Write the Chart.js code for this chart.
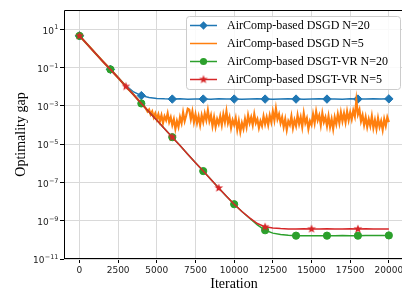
<!DOCTYPE html>
<html>
<head>
<meta charset="utf-8">
<script src="https://cdn.jsdelivr.net/npm/chart.js@4.4.1/dist/chart.umd.min.js"></script>
<style>
  html, body { margin: 0; padding: 0; background: #fff; }
  #wrap { width: 402px; height: 291px; }
</style>
</head>
<body>
<div id="wrap"><canvas id="gap-chart" width="402" height="291"></canvas></div>
<script>
// values are log10 of the optimality gap

// x tick labels and y tick exponents
const xTicks = [0, 2500, 5000, 7500, 10000, 12500, 15000, 17500, 20000];
const yTickExps = [-11, -9, -7, -5, -3, -1, 1];

// main curves are sampled every 500 iterations (0..20000)
const dsgdN20 = [0.65, 0.21, -0.23, -0.67, -1.1, -1.53, -1.95, -2.28, -2.47, -2.57,
  -2.62, -2.64, -2.65, -2.64, -2.66, -2.65, -2.65, -2.66, -2.64, -2.65,
  -2.65, -2.66, -2.65, -2.64, -2.65, -2.66, -2.65, -2.64, -2.65, -2.66,
  -2.65, -2.64, -2.65, -2.65, -2.66, -2.64, -2.65, -2.65, -2.64, -2.65, -2.64];

const dsgtN20 = [0.65, 0.21, -0.23, -0.67, -1.1, -1.54, -1.99, -2.43, -2.88, -3.32,
  -3.76, -4.2, -4.64, -5.08, -5.53, -5.97, -6.41, -6.85, -7.29, -7.72,
  -8.14, -8.52, -8.87, -9.22, -9.5, -9.65, -9.72, -9.76, -9.78, -9.78,
  -9.79, -9.78, -9.78, -9.78, -9.77, -9.78, -9.78, -9.77, -9.77, -9.77, -9.77];

const dsgtN5 = [0.65, 0.21, -0.23, -0.67, -1.1, -1.54, -1.99, -2.43, -2.88, -3.32,
  -3.76, -4.2, -4.64, -5.08, -5.53, -5.97, -6.41, -6.85, -7.29, -7.72,
  -8.14, -8.52, -8.85, -9.15, -9.32, -9.38, -9.41, -9.43, -9.44, -9.42,
  -9.43, -9.44, -9.42, -9.43, -9.44, -9.42, -9.43, -9.42, -9.44, -9.43, -9.43];

// DSGD N=5: every 500 up to 4000, then every 100 (noisy)
const dsgdN5Head = [0.65, 0.21, -0.23, -0.67, -1.1, -1.54, -1.99, -2.43, -2.88];
const dsgdN5Tail = [
  -2.95, -3.05, -3.15, -3.3, -3.2, -3.45, -3.3, -3.6, -3.4, -3.7,
  -3.45, -3.8, -3.5, -3.9, -3.55, -3.75, -3.4, -3.85, -3.6, -4.0,
  -3.7, -4.2, -3.8, -4.1, -3.6, -3.9, -3.35, -3.8, -3.5, -3.15,
  -3.2, -3.7, -3.3, -3.85, -3.45, -3.9, -3.55, -4.0, -3.5, -3.85,
  -3.4, -3.75, -3.25, -3.8, -3.5, -4.05, -3.6, -4.1, -3.7, -3.95,
  -3.55, -4.0, -3.45, -3.85, -3.3, -3.9, -3.6, -4.15, -3.75, -4.0,
  -3.65, -4.25, -3.8, -4.35, -3.9, -4.2, -3.7, -4.1, -3.5, -3.9,
  -3.6, -4.0, -3.45, -3.9, -3.7, -4.15, -3.8, -4.05, -3.55, -3.95,
  -3.6, -4.0, -3.5, -3.85, -3.3, -3.75, -3.15, -3.7, -3.45, -3.9,
  -3.6, -4.1, -3.7, -4.25, -3.8, -4.0, -3.55, -4.15, -3.75, -4.05,
  -3.5, -3.95, -3.6, -4.1, -3.4, -3.9, -3.65, -4.2, -3.8, -4.0,
  -3.45, -3.9, -3.3, -3.75, -3.5, -4.0, -3.4, -3.85, -3.6, -4.05,
  -3.55, -4.1, -3.7, -4.2, -3.6, -3.95, -3.45, -3.9, -3.35, -3.8,
  -3.4, -3.85, -3.3, -3.75, -3.35, -3.7, -3.25, -3.55, -2.72, -3.45,
  -3.2, -3.8, -3.5, -4.0, -3.6, -4.1, -3.7, -4.05, -3.55, -4.15,
  -3.75, -4.2, -3.65, -4.1, -3.8, -4.25, -3.7, -4.05, -3.6, -3.85
];

const labels = ['AirComp-based DSGD N=20', 'AirComp-based DSGD N=5',
  'AirComp-based DSGT-VR N=20', 'AirComp-based DSGT-VR N=5'];
const colors = ['#1f77b4', '#ff7f0e', '#2ca02c', '#d62728'];

// iteration grids
const mainIters = [];
for (let i = 0; i <= 20000; i += 500) mainIters.push(i);
const orangeIters = [];
for (let i = 0; i <= 4000; i += 500) orangeIters.push(i);
for (let i = 4100; i <= 20000; i += 100) orangeIters.push(i);

const toPoints = (xs, exps) => xs.map((x, i) => ({ x: x, y: Math.pow(10, exps[i]) }));

// filled star like matplotlib '*'
function makeStar(color, r) {
  const c = document.createElement('canvas');
  const s = Math.ceil(r * 2 + 2);
  c.width = s; c.height = s;
  const g = c.getContext('2d');
  g.beginPath();
  for (let k = 0; k < 10; k++) {
    const rad = k % 2 === 0 ? r : r * 0.42;
    const a = -Math.PI / 2 + k * Math.PI / 5;
    g.lineTo(s / 2 + rad * Math.cos(a), s / 2 + rad * Math.sin(a));
  }
  g.closePath();
  g.fillStyle = color;
  g.fill();
  return c;
}
const starImg = makeStar(colors[3], 4.6);

const markerEvery = step => ctx => (ctx.raw && ctx.raw.x % step === 0 ? 1 : 0);

const data = {
  datasets: [
    {
      label: labels[0],
      data: toPoints(mainIters, dsgdN20),
      borderColor: colors[0], backgroundColor: colors[0],
      borderWidth: 1.5, order: 3,
      pointStyle: 'rectRot',
      pointRadius: ctx => markerEvery(2000)(ctx) * 4.2,
      pointBorderWidth: 1
    },
    {
      label: labels[1],
      data: toPoints(orangeIters, dsgdN5Head.concat(dsgdN5Tail)),
      borderColor: colors[1], backgroundColor: colors[1],
      borderWidth: 2.2, order: 2,
      pointRadius: 0
    },
    {
      label: labels[2],
      data: toPoints(mainIters, dsgtN20),
      borderColor: colors[2], backgroundColor: colors[2],
      borderWidth: 1.5, order: 1,
      pointStyle: 'circle',
      pointRadius: ctx => markerEvery(2000)(ctx) * 3.6,
      pointBorderWidth: 1
    },
    {
      label: labels[3],
      data: toPoints(mainIters, dsgtN5),
      borderColor: colors[3], backgroundColor: colors[3],
      borderWidth: 1.5, order: 0,
      pointStyle: starImg,
      pointRadius: ctx => markerEvery(3000)(ctx) * 4.6
    }
  ]
};

// spines, y tick labels with raised exponents, axis titles, legend
const decor = {
  id: 'decor',
  afterDatasetsDraw(chart) {
    const { ctx, chartArea: a } = chart;
    ctx.save();
    ctx.strokeStyle = '#000';
    ctx.lineWidth = 1;
    ctx.beginPath();
    ctx.moveTo(a.left + 0.5, a.bottom);
    ctx.lineTo(a.left + 0.5, a.top + 0.5);
    ctx.lineTo(a.right, a.top + 0.5);
    ctx.moveTo(a.left, a.bottom - 0.5);
    ctx.lineTo(a.right, a.bottom - 0.5);
    ctx.stroke();
    ctx.restore();
  },
  afterDraw(chart) {
    const { ctx, chartArea: a } = chart;
    const yScale = chart.scales.y;

    ctx.save();
    ctx.fillStyle = '#222';
    ctx.textBaseline = 'alphabetic';
    const xEnd = a.left - 5.5;
    yTickExps.forEach(e => {
      const y = yScale.getPixelForValue(Math.pow(10, e));
      const expText = (e < 0 ? '\u2212' : '') + Math.abs(e);
      ctx.font = '6.5px "DejaVu Sans"';
      const ew = ctx.measureText(expText).width;
      ctx.textAlign = 'left';
      ctx.fillText(expText, xEnd - ew, y + 0.3);
      ctx.font = '9px "DejaVu Sans"';
      ctx.textAlign = 'right';
      ctx.fillText('10', xEnd - ew - 0.3, y + 4.4);
    });
    ctx.restore();

    ctx.save();
    ctx.fillStyle = '#000';
    ctx.font = '14px "Liberation Serif"';
    ctx.textAlign = 'center';
    ctx.textBaseline = 'middle';
    ctx.fillText('Iteration', 234, 284);
    ctx.translate(21, (a.top + a.bottom) / 2);
    ctx.rotate(-Math.PI / 2);
    ctx.fillText('Optimality gap', 0, 0);
    ctx.restore();

    // legend
    const bx = 186.5, by = 16.5, bw = 214, bh = 73;
    ctx.save();
    ctx.beginPath();
    ctx.roundRect(bx, by, bw, bh, 3);
    ctx.fillStyle = 'rgba(255,255,255,0.85)';
    ctx.fill();
    ctx.strokeStyle = '#cccccc';
    ctx.lineWidth = 1;
    ctx.stroke();
    const rows = [25.5, 43.5, 61.5, 79.5];
    labels.forEach((lab, i) => {
      const y = rows[i];
      ctx.strokeStyle = colors[i];
      ctx.lineWidth = 1.5;
      ctx.beginPath();
      ctx.moveTo(190, y);
      ctx.lineTo(217, y);
      ctx.stroke();
      ctx.fillStyle = colors[i];
      if (i === 0) {
        ctx.beginPath();
        ctx.moveTo(203.5, y - 4.2); ctx.lineTo(207.7, y);
        ctx.lineTo(203.5, y + 4.2); ctx.lineTo(199.3, y);
        ctx.closePath(); ctx.fill();
      } else if (i === 2) {
        ctx.beginPath();
        ctx.arc(203.5, y, 3.6, 0, Math.PI * 2);
        ctx.fill();
      } else if (i === 3) {
        ctx.drawImage(starImg, 203.5 - starImg.width / 2, y - starImg.height / 2);
      }
      ctx.fillStyle = '#000';
      ctx.font = '12px "Liberation Serif"';
      ctx.textAlign = 'left';
      ctx.textBaseline = 'middle';
      ctx.fillText(lab, 227, y + 0.5);
    });
    ctx.restore();
  }
};

Chart.defaults.font.family = '"DejaVu Sans"';
Chart.defaults.font.size = 9;
Chart.defaults.color = '#222';

const config = {
  type: 'line',
  data: data,
  options: {
    responsive: false,
    animation: false,
    devicePixelRatio: 1,
    layout: { autoPadding: false, padding: { top: 10, right: 0, left: 0, bottom: 0 } },
    plugins: { legend: { display: false }, tooltip: { enabled: false } },
    scales: {
      x: {
        type: 'linear',
        min: -1000,
        max: 20850,
        afterBuildTicks: axis => { axis.ticks = xTicks.map(v => ({ value: v })); },
        afterFit: axis => {
          axis.height = 32;
          axis.paddingLeft = 0; axis.paddingRight = 0;
        },
        ticks: { autoSkip: false, maxRotation: 0, padding: 2, callback: v => String(v) },
        grid: { color: '#d9d9d9', lineWidth: 1, tickColor: '#000', tickLength: 4 },
        border: { display: false }
      },
      y: {
        type: 'logarithmic',
        min: 1e-11,
        max: 1e2,
        afterBuildTicks: axis => { axis.ticks = yTickExps.map(e => ({ value: Math.pow(10, e) })); },
        afterFit: axis => {
          axis.width = 64;
          axis.paddingTop = 0; axis.paddingBottom = 0;
        },
        // labels are drawn by the decor plugin so the exponent can be raised
        ticks: { autoSkip: false, padding: 2, callback: () => '' },
        grid: { color: '#d9d9d9', lineWidth: 1, tickColor: '#000', tickLength: 4 },
        border: { display: false }
      }
    }
  },
  plugins: [decor]
};

window.addEventListener('load', () => {
  new Chart(document.getElementById('gap-chart'), config);
});
</script>
</body>
</html>
